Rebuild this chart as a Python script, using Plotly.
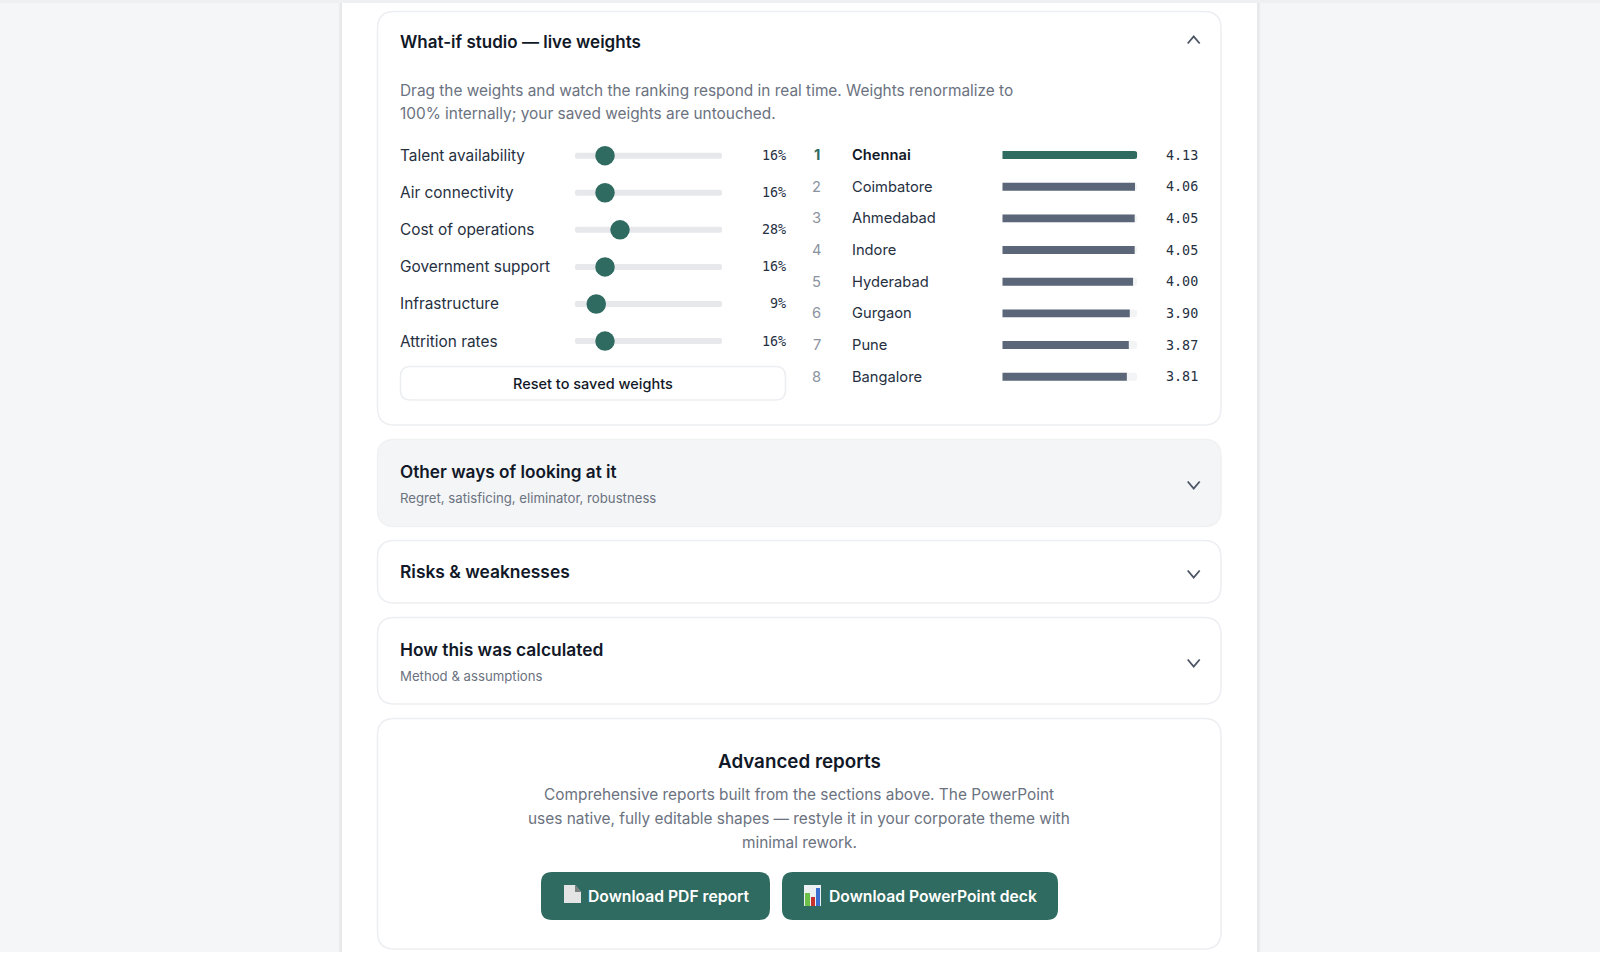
import plotly.graph_objects as go

W, H = 1600, 957

# slider panel
factors = ["Talent availability", "Air connectivity", "Cost of operations",
           "Government support", "Infrastructure", "Attrition rates"]
weights = [16, 16, 28, 16, 9, 16]

# ranking panel
ranks = [1, 2, 3, 4, 5, 6, 7, 8]
cities = ["Chennai", "Coimbatore", "Ahmedabad", "Indore", "Hyderabad", "Gurgaon", "Pune", "Bangalore"]
scores = [4.13, 4.06, 4.05, 4.05, 4.00, 3.90, 3.87, 3.81]

GREEN = "#2f6b60"
SLATE = "#5b6779"
INK = "#111827"
BODY = "#26303f"
MUTED = "#6b7280"
BORDER = "#eceef1"
FONT = "Inter"
MONO = "DejaVu Sans Mono"


def px(x):
    return x / W


def py(y):
    return 1 - y / H


def rounded(x0, y0, x1, y1, r):
    """Rounded rect path in paper coordinates, input in page pixels"""
    pts = [("M", x0 + r, y0), ("L", x1 - r, y0), ("Q", x1, y0, x1, y0 + r), ("L", x1, y1 - r),
           ("Q", x1, y1, x1 - r, y1), ("L", x0 + r, y1), ("Q", x0, y1, x0, y1 - r),
           ("L", x0, y0 + r), ("Q", x0, y0, x0 + r, y0)]
    out = ""
    for p in pts:
        nums = p[1:]
        coords = [f"{px(nums[i])},{py(nums[i + 1])}" for i in range(0, len(nums), 2)]
        out += p[0] + " ".join(coords) + " "
    return out + "Z"


def poly(points):
    return "M" + " L".join(f"{px(x)},{py(y)}" for x, y in points)


shapes = []


def add_box(x0, y0, x1, y1, r=0, fill="white", line=None, width=1.5):
    shapes.append(dict(type="path", path=rounded(x0, y0, x1, y1, r) if r else poly(
        [(x0, y0), (x1, y0), (x1, y1), (x0, y1)]) + " Z", xref="paper", yref="paper", layer="below",
        fillcolor=fill, line=dict(color=line or fill, width=width if line else 0)))


def add_chevron(x, y, up=False):
    d = -3.5 if up else 3.5
    shapes.append(dict(type="path", path=poly([(x - 6, y - d), (x, y + d), (x + 6, y - d)]),
                       xref="paper", yref="paper", line=dict(color="#4b5563", width=1.8)))


annotations = []


def add_text(x, y, text, size=15, color=BODY, anchor="left", weight=400, family=FONT, yref="paper"):
    # annotations carry about 2px of padding, take it back on the anchored side
    shift = {"left": -2, "right": 2, "center": 0}[anchor]
    annotations.append(dict(x=px(x), y=py(y) if yref == "paper" else y, xref="paper", yref=yref, text=text,
                            showarrow=False, xanchor=anchor, yanchor="middle", align=anchor,
                            xshift=shift, font=dict(family=family, size=size, color=color, weight=weight)))


# page background and column
add_box(0, 0, W, 952, fill="#f4f6f8")
add_box(0, 0, W, 3, fill="#eff0f2")
for i, alpha in enumerate([0.012, 0.018, 0.025]):
    add_box(338 + i, 3, 1261 - i, 952, fill=f"rgba(0,0,0,{alpha})")
add_box(342, 3, 1257, 952, fill="white")

# cards
add_box(377.5, 11.5, 1221, 425, r=17, line=BORDER)
add_box(377.5, 439.5, 1221, 526.5, r=17, fill="#f3f5f7", line="#f0f1f3")
add_box(377.5, 540.5, 1221, 603, r=17, line=BORDER)
add_box(377.5, 617.5, 1221, 704, r=17, line=BORDER)
add_box(377.5, 718.5, 1221, 949, r=17, line=BORDER)
add_box(400.5, 366.5, 785.5, 400, r=10, line=BORDER)
add_box(541, 872, 770, 920, r=11, fill=GREEN)
add_box(782, 872, 1058, 920, r=11, fill=GREEN)

add_chevron(1193.7, 40, up=True)
add_chevron(1193.7, 485)
add_chevron(1193.7, 574)
add_chevron(1193.7, 663)

# emoji icons on the two download buttons
shapes.append(dict(type="path", path=poly([(564, 885), (575, 885), (581, 892), (581, 903), (564, 903)]) + " Z",
                   xref="paper", yref="paper", fillcolor="#e4e4e4", line=dict(width=0)))
shapes.append(dict(type="path", path=poly([(575, 885), (581, 892), (575, 892)]) + " Z",
                   xref="paper", yref="paper", fillcolor="#77807d", line=dict(width=0)))
add_icon = [(804, 885, 821, 906, "#eef1f1"), (805, 893, 810, 906, "#6cc04a"),
            (811, 897, 815, 906, "#c8322c"), (816, 888, 820, 906, "#3a6fd0")]
for x0, y0, x1, y1, c in add_icon:
    shapes.append(dict(type="rect", x0=px(x0), x1=px(x1), y0=py(y0), y1=py(y1), xref="paper", yref="paper",
                       fillcolor=c, line=dict(width=0)))

# text blocks
add_text(400, 42.5, "What-if studio — live weights", size=17, color=INK, weight=600)
add_text(400, 90, "Drag the weights and watch the ranking respond in real time. Weights renormalize to", size=15.4, color=MUTED)
add_text(400, 114, "100% internally; your saved weights are untouched.", size=15.4, color=MUTED)
add_text(592.7, 384, "Reset to saved weights", size=14.5, color=INK, anchor="center", weight=500)
add_text(400, 471.5, "Other ways of looking at it", size=17.2, color=INK, weight=600)
add_text(400, 498, "Regret, satisficing, eliminator, robustness", size=13.2, color=MUTED)
add_text(400, 571.5, "Risks &amp; weaknesses", size=17.4, color=INK, weight=600)
add_text(400, 649, "How this was calculated", size=17.4, color=INK, weight=600)
add_text(400, 675.5, "Method &amp; assumptions", size=13.2, color=MUTED)
add_text(799, 761, "Advanced reports", size=18.8, color=INK, anchor="center", weight=600)
add_text(799, 794, "Comprehensive reports built from the sections above. The PowerPoint", size=15.4, color=MUTED, anchor="center")
add_text(799, 818, "uses native, fully editable shapes — restyle it in your corporate theme with", size=15.4, color=MUTED, anchor="center")
add_text(799, 842, "minimal rework.", size=15.4, color=MUTED, anchor="center")
add_text(588, 896, "Download PDF report", size=15.7, color="white", weight=600)
add_text(829, 896, "Download PowerPoint deck", size=15.7, color="white", weight=600)

# row labels, tied to the category axes
for name, w in zip(factors, weights):
    add_text(400, name, name, size=15.4, color=BODY, yref="y")
    add_text(786, name, f"{w}%", size=13.4, color=BODY, anchor="right", family=MONO, yref="y")
for rank, city, score in zip(ranks, cities, scores):
    first = rank == 1
    add_text(816.7, city, str(rank), size=14.7, color=GREEN if first else "#8b93a0", anchor="center",
             weight=700 if first else 400, yref="y2")
    add_text(852, city, city, size=14.7, color=INK if first else BODY, weight=600 if first else 400, yref="y2")
    add_text(1198, city, f"{score:.2f}", size=13.4, color=BODY, anchor="right", family=MONO, yref="y2")

fig = go.Figure()

# slider tracks and thumbs
slider_range = [-8, 109.6]
fig.add_trace(go.Bar(y=factors, x=[slider_range[1] - slider_range[0]] * len(factors), base=slider_range[0],
                     orientation="h", width=0.16, opacity=1,
                     marker=dict(color="#e6e8ec", cornerradius=3, line_width=0),
                     xaxis="x", yaxis="y", hoverinfo="skip"))
fig.add_trace(go.Scatter(y=factors, x=weights, mode="markers", marker=dict(size=19.5, color=GREEN),
                         xaxis="x", yaxis="y"))

# ranking bars: pale track, leader fully rounded, the rest nearly square at the end
fig.add_trace(go.Bar(y=cities, x=[max(scores)] * len(cities), orientation="h", width=0.25, opacity=1,
                     marker=dict(color="#f3f4f6", cornerradius=4, line_width=0),
                     xaxis="x2", yaxis="y2", hoverinfo="skip"))
fig.add_trace(go.Bar(y=cities[:1], x=scores[:1], orientation="h", width=0.25, opacity=1,
                     marker=dict(color=GREEN, cornerradius=4, line_width=0),
                     xaxis="x2", yaxis="y2"))
fig.add_trace(go.Bar(y=cities[1:], x=scores[1:], orientation="h", width=0.25, opacity=1,
                     marker=dict(color=SLATE, cornerradius=2, line_width=0),
                     xaxis="x2", yaxis="y2"))

fig.update_layout(
    width=W, height=H, margin=dict(l=0, r=0, t=0, b=0), showlegend=False, barmode="overlay",
    paper_bgcolor="white", plot_bgcolor="rgba(0,0,0,0)", shapes=shapes, annotations=annotations,
    xaxis=dict(domain=[px(575), px(722)], range=slider_range, visible=False, fixedrange=True),
    yaxis=dict(domain=[py(359.6), py(137.15)], range=[5.5, -0.5], categoryorder="array", categoryarray=factors,
               visible=False, anchor="x"),
    xaxis2=dict(domain=[px(1002.3), px(1137.3)], range=[0, max(scores)], visible=False, anchor="y2"),
    yaxis2=dict(domain=[py(392.5), py(139.2)], range=[7.5, -0.5], categoryorder="array", categoryarray=cities,
                visible=False, anchor="x2"),
)

# the page has a default body margin; drop it so the canvas sits at 0,0
fig.write_html("out.html", config={"displayModeBar": False},
               post_script="document.body.style.margin='0';document.body.style.overflow='hidden';")
